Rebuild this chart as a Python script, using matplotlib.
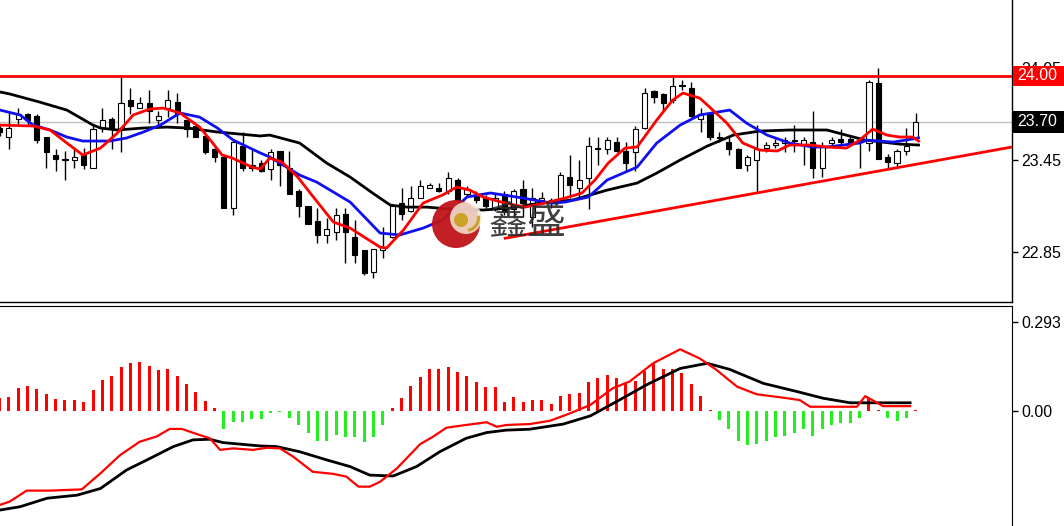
import matplotlib
matplotlib.use('Agg')
import matplotlib.pyplot as plt
import matplotlib.patches as patches
import matplotlib.transforms as transforms
import numpy as np

plt.rcParams['font.family'] = ['Liberation Sans', 'DejaVu Sans']

# ---- candles (one per bar, oldest first)
opens = [23.66, 23.60, 23.72, 23.75, 23.74, 23.60, 23.48, 23.46, 23.45, 23.48,
         23.40, 23.66, 23.72, 23.65, 23.84, 23.79, 23.82, 23.71, 23.79, 23.83,
         23.71, 23.67, 23.61, 23.52, 23.47, 23.14, 23.54, 23.42, 23.43, 23.39,
         23.51, 23.40, 23.25, 23.15, 23.05, 22.96, 22.98, 23.10, 22.95, 22.86,
         22.72, 22.86, 22.95, 23.17, 23.12, 23.20, 23.27, 23.27, 23.25, 23.32,
         23.23, 23.22, 23.20, 23.13, 23.23, 23.13, 23.26, 23.08, 23.19, 23.19,
         23.18, 23.34, 23.27, 23.33, 23.53, 23.52, 23.57, 23.51, 23.50, 23.66,
         23.90, 23.88, 23.84, 23.94, 23.92, 23.72, 23.75, 23.60, 23.57, 23.52,
         23.42, 23.45, 23.53, 23.55, 23.56, 23.575, 23.55, 23.57, 23.40, 23.56,
         23.59, 23.59, 23.575, 23.56, 23.95, 23.47, 23.43, 23.51, 23.60]
closes = [23.63, 23.66, 23.75, 23.71, 23.58, 23.50, 23.46, 23.45, 23.47, 23.42,
          23.65, 23.71, 23.66, 23.82, 23.80, 23.82, 23.77, 23.74, 23.84, 23.75,
          23.65, 23.60, 23.50, 23.47, 23.14, 23.57, 23.40, 23.40, 23.38, 23.50,
          23.42, 23.23, 23.15, 23.03, 22.96, 23.00, 23.09, 22.98, 22.83, 22.71,
          22.87, 22.88, 23.15, 23.10, 23.20, 23.28, 23.29, 23.25, 23.33, 23.19,
          23.26, 23.19, 23.15, 23.20, 23.11, 23.25, 23.17, 23.20, 23.20, 23.17,
          23.35, 23.29, 23.32, 23.54, 23.52, 23.58, 23.51, 23.43, 23.65, 23.89,
          23.86, 23.82, 23.93, 23.93, 23.74, 23.75, 23.60, 23.595, 23.52, 23.40,
          23.47, 23.52, 23.55, 23.56, 23.58, 23.58, 23.58, 23.40, 23.54, 23.58,
          23.57, 23.56, 23.58, 23.96, 23.46, 23.44, 23.51, 23.54, 23.70]
highs = [23.67, 23.77, 23.79, 23.76, 23.75, 23.60, 23.52, 23.51, 23.52, 23.53,
         23.67, 23.79, 23.73, 24.00, 23.92, 23.86, 23.91, 23.77, 23.91, 23.89,
         23.71, 23.68, 23.63, 23.54, 23.48, 23.57, 23.63, 23.52, 23.45, 23.52,
         23.51, 23.51, 23.26, 23.15, 23.14, 23.07, 23.14, 23.14, 23.06, 22.86,
         22.87, 23.01, 23.16, 23.27, 23.28, 23.32, 23.30, 23.30, 23.37, 23.33,
         23.28, 23.25, 23.22, 23.23, 23.25, 23.26, 23.32, 23.27, 23.24, 23.20,
         23.37, 23.48, 23.45, 23.60, 23.60, 23.60, 23.60, 23.57, 23.67, 23.92,
         23.91, 23.89, 24.00, 23.97, 23.96, 23.79, 23.76, 23.63, 23.60, 23.53,
         23.48, 23.68, 23.57, 23.59, 23.60, 23.68, 23.60, 23.77, 23.57, 23.60,
         23.65, 23.61, 23.60, 23.97, 24.05, 23.49, 23.52, 23.66, 23.76]
lows = [23.61, 23.52, 23.68, 23.68, 23.56, 23.40, 23.38, 23.32, 23.40, 23.39,
        23.40, 23.63, 23.52, 23.50, 23.75, 23.79, 23.69, 23.68, 23.73, 23.69,
        23.60, 23.60, 23.49, 23.44, 23.14, 23.09, 23.38, 23.38, 23.37, 23.32,
        23.28, 23.23, 23.08, 23.03, 22.91, 22.91, 22.93, 22.78, 22.78, 22.70,
        22.68, 22.81, 22.94, 23.06, 23.11, 23.20, 23.27, 23.24, 23.23, 23.17,
        23.21, 23.17, 23.14, 23.12, 23.09, 23.07, 23.08, 23.01, 23.17, 23.14,
        23.17, 23.20, 23.20, 23.13, 23.42, 23.49, 23.50, 23.38, 23.38, 23.65,
        23.82, 23.77, 23.82, 23.91, 23.73, 23.63, 23.58, 23.57, 23.48, 23.40,
        23.38, 23.24, 23.50, 23.53, 23.50, 23.50, 23.42, 23.33, 23.34, 23.54,
        23.54, 23.54, 23.40, 23.51, 23.46, 23.40, 23.40, 23.48, 23.58]

# ---- moving averages (bar index, price)
ma_fast_x = [0.05, 3.6, 5.4, 7.2, 8.9, 10.8, 12.6, 14.3, 16.1, 17.5, 19.3, 21.4, 22.8, 23.8,
             24.9, 27.0, 27.9, 28.9, 30.2, 31.9, 33.4, 35.7, 37.5, 40.7, 41.4, 43.2, 45.3,
             47.4, 48.9, 50.3, 51.7, 54.1, 56.2, 58.3, 60.5, 62.3, 63.7, 65.1, 66.9, 68.2,
             70.3, 72.0, 73.1, 74.9, 76.3, 77.8, 79.5, 81.3, 83.2, 84.5, 86.7, 88.5, 90.6,
             92.0, 93.4, 94.9, 96.3, 97.7, 98.3]
ma_fast_y = [23.678, 23.672, 23.646, 23.561, 23.483, 23.528, 23.626, 23.744, 23.783, 23.789,
             23.757, 23.665, 23.561, 23.483, 23.463, 23.404, 23.391, 23.463, 23.437, 23.339,
             23.222, 23.046, 23.006, 22.882, 22.876, 22.993, 23.169, 23.222, 23.274, 23.254,
             23.209, 23.169, 23.143, 23.169, 23.202, 23.235, 23.320, 23.430, 23.528, 23.535,
             23.711, 23.841, 23.887, 23.854, 23.776, 23.691, 23.561, 23.515, 23.509, 23.548,
             23.548, 23.535, 23.528, 23.580, 23.652, 23.613, 23.600, 23.600, 23.574]
ma_mid_x = [0.05, 2.2, 3.6, 5.4, 7.2, 8.9, 11.8, 13.6, 15.4, 17.2, 19.3, 21.4, 23.3, 25.0,
            27.9, 28.9, 32.1, 33.9, 37.5, 40.7, 42.8, 45.3, 47.4, 50.0, 52.5, 55.3, 59.1,
            60.5, 63.0, 65.0, 68.2, 70.3, 72.8, 74.9, 78.1, 79.9, 82.1, 84.5, 87.0, 88.5,
            92.0, 92.8, 95.6, 98.3]
ma_mid_y = [23.776, 23.744, 23.678, 23.646, 23.600, 23.574, 23.574, 23.594, 23.633, 23.678,
            23.757, 23.730, 23.659, 23.580, 23.496, 23.470, 23.352, 23.307, 23.176, 22.974,
            22.961, 23.006, 23.059, 23.209, 23.235, 23.209, 23.169, 23.176, 23.209, 23.320,
            23.404, 23.561, 23.678, 23.744, 23.776, 23.691, 23.613, 23.561, 23.535, 23.535,
            23.561, 23.580, 23.567, 23.594]
ma_slow_x = [0.05, 1.1, 4.3, 7.2, 10.0, 10.8, 12.6, 15.4, 17.9, 20.1, 23.3, 27.9, 28.9, 32.1,
             35.0, 37.5, 39.9, 41.8, 43.6, 45.7, 48.2, 51.7, 54.6, 57.8, 61.3, 65.0, 68.2,
             70.3, 72.8, 75.7, 78.5, 81.3, 84.5, 88.5, 90.1, 92.6, 96.3, 98.3]
ma_slow_y = [23.894, 23.881, 23.828, 23.776, 23.678, 23.659, 23.646, 23.659, 23.665, 23.659,
             23.633, 23.607, 23.613, 23.561, 23.430, 23.339, 23.235, 23.156, 23.143, 23.143,
             23.130, 23.124, 23.137, 23.169, 23.189, 23.254, 23.300, 23.365, 23.450, 23.541,
             23.613, 23.639, 23.646, 23.646, 23.620, 23.580, 23.554, 23.548]

# ---- levels
resistance = 24.00
last_price = 23.70
trend_x = [54.1, 108.3]
trend_y = [22.94, 23.535]
price_ticks = [24.05, 23.45, 22.85]

# ---- MACD
hist = [0.042, 0.047, 0.075, 0.082, 0.072, 0.055, 0.040, 0.036, 0.036, 0.031,
        0.069, 0.102, 0.115, 0.146, 0.159, 0.160, 0.148, 0.135, 0.137, 0.115,
        0.088, 0.064, 0.033, 0.009, -0.060, -0.035, -0.035, -0.027, -0.027, -0.005,
        -0.002, -0.024, -0.046, -0.074, -0.098, -0.098, -0.079, -0.084, -0.084, -0.101,
        -0.084, -0.046, 0.011, 0.044, 0.082, 0.113, 0.138, 0.138, 0.146, 0.129,
        0.115, 0.097, 0.078, 0.078, 0.031, 0.045, 0.031, 0.035, 0.035, 0.022,
        0.050, 0.057, 0.060, 0.097, 0.110, 0.120, 0.110, 0.088, 0.099, 0.132,
        0.154, 0.137, 0.137, 0.126, 0.088, 0.050, 0.003, -0.031, -0.060, -0.099,
        -0.112, -0.110, -0.099, -0.086, -0.082, -0.071, -0.060, -0.082, -0.060, -0.046,
        -0.038, -0.038, -0.024, 0.044, 0.002, -0.024, -0.033, -0.022, 0.002]
macd_x = [0.05, 1.1, 2.9, 5.4, 8.8, 10.8, 12.9, 15.0, 16.8, 18.2, 19.5, 21.4, 22.5, 23.6,
          25.0, 27.1, 28.6, 30.0, 31.4, 33.5, 35.7, 37.1, 38.4, 39.6, 40.7, 42.5, 45.0,
          46.4, 47.8, 49.9, 52.1, 53.2, 54.2, 56.7, 58.9, 61.0, 63.2, 65.6, 67.4, 69.9,
          72.8, 74.9, 76.7, 78.9, 81.0, 83.8, 85.6, 86.7, 88.8, 91.7, 92.6, 94.5, 97.4]
macd_y = [-0.309, -0.298, -0.262, -0.262, -0.258, -0.205, -0.145, -0.101, -0.084, -0.059,
          -0.059, -0.079, -0.090, -0.128, -0.123, -0.128, -0.121, -0.123, -0.150, -0.200,
          -0.207, -0.216, -0.249, -0.249, -0.233, -0.189, -0.109, -0.084, -0.055, -0.046,
          -0.037, -0.052, -0.046, -0.043, -0.032, -0.008, 0.020, 0.075, 0.097, 0.157,
          0.203, 0.173, 0.135, 0.080, 0.055, 0.044, 0.036, 0.014, 0.014, 0.014,
          0.049, 0.016, 0.016]
signal_x = [0.05, 2.2, 5.1, 8.3, 10.8, 13.6, 16.1, 18.6, 20.7, 22.5, 23.9, 25.7, 27.9, 29.6,
            32.1, 35.0, 37.5, 39.6, 42.1, 44.6, 47.1, 49.9, 52.1, 54.2, 56.7, 60.3, 63.2,
            66.0, 69.2, 72.8, 75.7, 78.1, 81.7, 85.3, 88.1, 91.0, 94.5, 97.4]
signal_y = [-0.326, -0.315, -0.287, -0.277, -0.255, -0.194, -0.156, -0.117, -0.095, -0.093,
            -0.104, -0.109, -0.115, -0.117, -0.134, -0.161, -0.183, -0.211, -0.214, -0.183,
            -0.134, -0.090, -0.071, -0.063, -0.060, -0.043, -0.016, 0.031, 0.086, 0.140,
            0.157, 0.137, 0.091, 0.064, 0.042, 0.027, 0.027, 0.027]
macd_ticks = [0.293, 0.00]

W, H = 1064, 526
fig = plt.figure(figsize=(W / 100., H / 100.), dpi=100)
fig.patch.set_facecolor('white')

# price panel
ax = fig.add_axes([0, 1 - 302. / H, 1012. / W, 302. / H])
# macd panel
ax2 = fig.add_axes([0, 0, 1012. / W, (H - 306.) / H])

n = len(opens)
x = np.arange(n)
o = np.array(opens)
c = np.array(closes)

ax.axhline(last_price, color='#c0c0c0', lw=1, zorder=1)
ax.vlines(x, lows, highs, color='black', lw=1, zorder=2)
body_bot = np.minimum(o, c)
body_h = np.maximum(np.abs(c - o), 0.006)
body_col = ['white' if cc >= oo else 'black' for oo, cc in zip(o, c)]
ax.bar(x, body_h, bottom=body_bot, width=0.55, color=body_col,
       edgecolor='black', linewidth=0.8, zorder=3)

ax.plot(ma_slow_x, ma_slow_y, color='black', lw=2, zorder=4)
ax.plot(ma_mid_x, ma_mid_y, color='#1010ee', lw=2, zorder=4)
ax.plot(ma_fast_x, ma_fast_y, color='#ff0000', lw=2, zorder=5)
ax.axhline(resistance, color='#ff0000', lw=2, zorder=5)
ax.plot(trend_x, trend_y, color='#ff0000', lw=2, zorder=5, clip_on=True)

ax.set_xlim(0.05, 108.3)
ax.set_ylim(22.524, 24.494)
ax.yaxis.tick_right()
ax.set_yticks(price_ticks)
ax.set_yticklabels(['%.2f' % v for v in price_ticks])
ax.set_xticks([])
for s in ['top', 'left']:
    ax.spines[s].set_visible(False)
ax.spines['right'].set_linewidth(1)
ax.spines['bottom'].set_linewidth(1)
ax.tick_params(axis='y', length=4, width=1, pad=3, labelsize=11.5, colors='black')

# macd
hcol = ['#ff0000' if v >= 0 else '#22ee22' for v in hist]
ax2.bar(x, hist, width=0.32, color=hcol, zorder=2)
ax2.plot(signal_x, signal_y, color='black', lw=2, zorder=3)
ax2.plot(macd_x, macd_y, color='#ff0000', lw=1.6, zorder=4)
ax2.set_xlim(0.05, 108.3)
ax2.set_ylim(-0.3785, 0.3456)
ax2.yaxis.tick_right()
ax2.set_yticks(macd_ticks)
ax2.set_yticklabels(['0.293', '0.00'])
ax2.set_xticks([])
for s in ['bottom', 'left']:
    ax2.spines[s].set_visible(False)
ax2.tick_params(axis='y', length=4, width=1, pad=3, labelsize=11.5, colors='black')

# price tags on the right axis
tr = transforms.blended_transform_factory(fig.transFigure, ax.transData)
px = 1. / 153.3
for val, bg, hpx in [(resistance, '#ff0000', 20), (last_price, 'black', 22)]:
    rect = patches.Rectangle((1013. / W, val - hpx / 2. * px), 51. / W, hpx * px,
                             transform=tr, facecolor=bg, edgecolor='none', zorder=10)
    fig.add_artist(rect)
    fig.text(1017. / W, val, '%.2f' % val, transform=tr, color='white',
             fontsize=11.5, va='center', ha='left', zorder=11)

# watermark logo
idt = transforms.IdentityTransform()
cx, cy = 456, H - 224
fig.add_artist(patches.Circle((cx, cy), 24, transform=idt, facecolor='#c0141a',
                              edgecolor='none', alpha=0.95, zorder=6))
fig.add_artist(patches.Circle((cx + 10, cy + 6), 16, transform=idt, facecolor='#f3e9d6',
                              edgecolor='none', alpha=0.85, zorder=7))
fig.add_artist(patches.Circle((cx + 5, cy + 4), 7, transform=idt, facecolor='#c9a227',
                              edgecolor='none', zorder=8))
fig.add_artist(patches.Wedge((cx + 10, cy + 6), 14, -80, 10, width=3, transform=idt,
                             facecolor='#c9a227', edgecolor='none', zorder=8))
fig.text(488. / W, 1 - 222. / H, u'鑫盛', fontsize=28, color='#2a2a2a', alpha=0.9,
         family=['Noto Sans CJK SC', 'DejaVu Sans'], va='center', ha='left', zorder=9)

fig.savefig('out.png', dpi=100, facecolor='white')
